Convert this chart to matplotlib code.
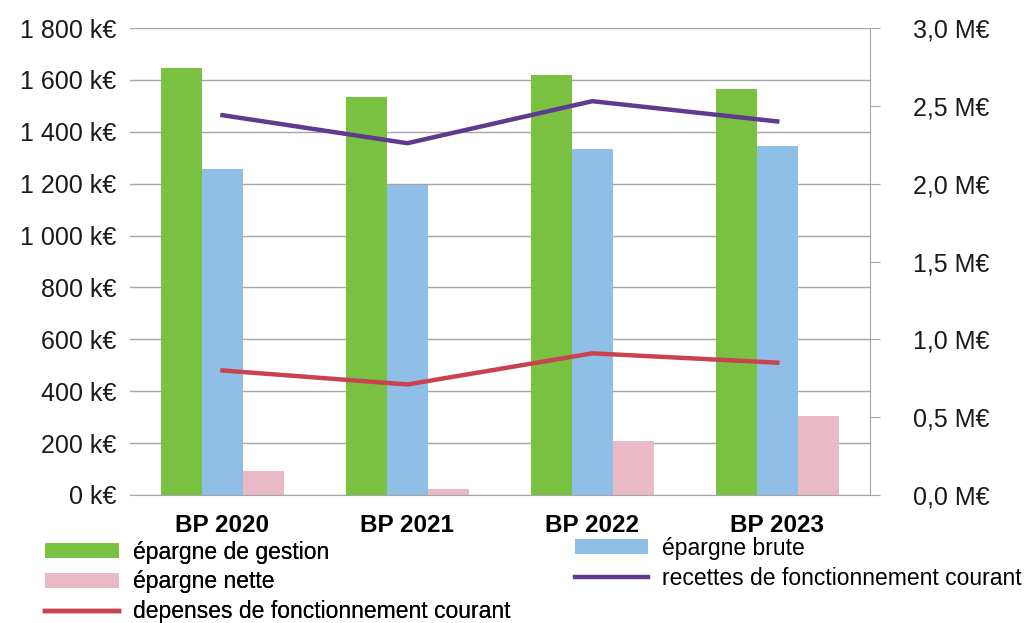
import numpy as np
import matplotlib.pyplot as plt
from matplotlib.ticker import FuncFormatter

# Plot style
plt.rcParams['font.family'] = ['Liberation Sans', 'DejaVu Sans']

categories = ['BP 2020', 'BP 2021', 'BP 2022', 'BP 2023']
epargne_gestion = [1645, 1535, 1620, 1565]
epargne_brute = [1258, 1196, 1332, 1345]
epargne_nette = [94, 24, 208, 305]
# secondary axis, M€
recettes = [2.44, 2.26, 2.53, 2.40]
depenses = [0.80, 0.71, 0.91, 0.85]

GRID = '#a6a6a6'


def k_fmt(v, pos):
    return f"{int(round(v)):,}".replace(',', ' ') + ' k€'


def m_fmt(v, pos):
    return f"{v:.1f}".replace('.', ',') + ' M€'


def main():
    fig = plt.figure(figsize=(10.36, 6.23), dpi=100)
    ax = fig.add_axes([0.1255, 0.2055, 0.714, 0.7495])
    x = np.arange(len(categories))
    w = 0.221
    b1 = ax.bar(x - w, epargne_gestion, w, color='#7ac142', label='épargne de gestion', zorder=2)
    b2 = ax.bar(x, epargne_brute, w, color='#8fbfe6', label='épargne brute', zorder=2)
    b3 = ax.bar(x + w, epargne_nette, w, color='#e9bac6', label='épargne nette', zorder=2)
    ax.set_xlim(-0.5, 3.5)
    ax.set_ylim(0, 1800)
    ax.set_yticks(np.arange(0, 1801, 200))
    ax.yaxis.set_major_formatter(FuncFormatter(k_fmt))
    ax.grid(axis='y', color=GRID, lw=1, zorder=0)
    ax.set_axisbelow(True)
    ax.set_xticks(x)
    ax.set_xticklabels(categories, fontsize=17.5, fontweight='bold')
    ax.tick_params(axis='x', length=0, pad=14)
    ax.tick_params(axis='y', length=0, labelsize=18, pad=10, colors='#1a1a1a')
    for s in ['top', 'left', 'right']:
        ax.spines[s].set_visible(False)
    ax.spines['bottom'].set_color(GRID)

    ax2 = ax.twinx()
    l1, = ax2.plot(x, recettes, color='#5f3a8f', lw=3.2, label='recettes de fonctionnement courant', zorder=3)
    l2, = ax2.plot(x, depenses, color='#c9424f', lw=3.2, label='depenses de fonctionnement courant', zorder=3)
    ax2.set_ylim(0, 3.0)
    ax2.set_yticks(np.arange(0, 3.01, 0.5))
    ax2.yaxis.set_major_formatter(FuncFormatter(m_fmt))
    ax2.tick_params(axis='y', length=7, color=GRID, labelsize=18, pad=24, labelcolor='#1a1a1a')
    for s in ['top', 'left', 'bottom']:
        ax2.spines[s].set_visible(False)
    ax2.spines['right'].set_color(GRID)

    # legend, two columns placed separately
    leg_kw = dict(loc='upper left', frameon=False, fontsize=16.5, handlelength=3.2,
                  handleheight=0.6, handletextpad=0.6, labelspacing=0.3, borderaxespad=0)
    left = [b1, b3, l2]
    right = [b2, l1]
    leg1 = fig.legend(left, [h.get_label() for h in left], bbox_to_anchor=(0.035, 0.147), **leg_kw)
    fig.legend(right, [h.get_label() for h in right], bbox_to_anchor=(0.546, 0.153), **leg_kw)
    fig.add_artist(leg1)
    fig.savefig('out.png', dpi=100)


if __name__ == "__main__":
    main()
